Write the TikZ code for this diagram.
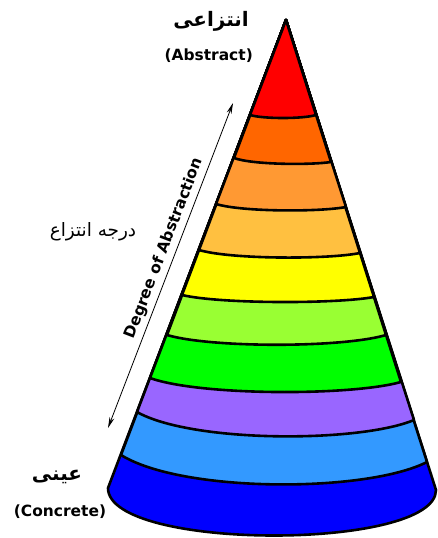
\documentclass[tikz,border=0pt]{standalone}
\usepackage{fontspec}
\setmainfont{DejaVu Sans}
\newfontfamily\arabicfont[Script=Arabic]{DejaVu Sans}
\TeXXeTstate=1
\usetikzlibrary{
  arrows.meta,
  calc
}
\definecolor{conered}{RGB}{255,0,0}
\definecolor{coneorange}{RGB}{255,102,0}
\definecolor{conelightorange}{RGB}{255,153,51}
\definecolor{coneamber}{RGB}{255,192,64}
\definecolor{coneyellow}{RGB}{255,255,0}
\definecolor{conelime}{RGB}{153,255,51}
\definecolor{conegreen}{RGB}{0,255,0}
\definecolor{conepurple}{RGB}{153,102,255}
\definecolor{conesky}{RGB}{51,153,255}
\definecolor{coneblue}{RGB}{0,0,255}
\tikzset{
  coneband/.style={
    draw=black, line width=2.6bp, line join=round
  },
  levelarrow/.style={
    {Stealth[length=11bp,width=5bp]}-{Stealth[length=11bp,width=5bp]},
    draw=black, line width=0.8bp
  },
  enlabel/.style={
    font=\fontsize{15.5}{18}\selectfont\bfseries, inner sep=1bp
  },
  falabel/.style={
    font=\fontsize{20}{24}\selectfont\arabicfont\bfseries, inner sep=1bp
  },
}

\begin{document}
\begin{tikzpicture}[x=1bp, y=-1bp]

  \useasboundingbox[fill=white] (0,0) rectangle (438,538);

  \coordinate (apex) at (286,20);

  %% cone, drawn from the base up
  \filldraw[coneband, fill=coneblue] (apex) -- (108,488)
    .. controls +(0,63) and +(0,61) .. (436,490) -- cycle;
  \filldraw[coneband, fill=conesky] (apex) -- (121,455)
    .. controls +(61,38) and +(-61,31) .. (427,462) -- cycle;
  \filldraw[coneband, fill=conepurple] (apex) -- (137,412)
    .. controls +(55,31) and +(-55,23) .. (414,420) -- cycle;
  \filldraw[coneband, fill=conegreen] (apex) -- (150,378)
    .. controls +(50,18) and +(-50,14) .. (401,382) -- cycle;
  \filldraw[coneband, fill=conelime] (apex) -- (167,335)
    .. controls +(44,13) and +(-44,13) .. (386,335) -- cycle;
  \filldraw[coneband, fill=coneyellow] (apex) -- (182,295)
    .. controls +(38,9) and +(-38,7) .. (374,297) -- cycle;
  \filldraw[coneband, fill=coneamber] (apex) -- (199,250)
    .. controls +(32,9.5) and +(-32,6.5) .. (360,253) -- cycle;
  \filldraw[coneband, fill=conelightorange] (apex) -- (216,204)
    .. controls +(26,8) and +(-26,5) .. (346,207) -- cycle;
  \filldraw[coneband, fill=coneorange] (apex) -- (234,158)
    .. controls +(19,7) and +(-19,3) .. (331,162) -- cycle;
  \filldraw[coneband, fill=conered] (apex) -- (250,115)
    .. controls +(13,4) and +(-13,4) .. (316,115) -- cycle;

  %% labels
  \node[falabel] (abstractfa) at (211,21) {\beginR انتزاعی\endR};
  \node[enlabel, anchor=east] (abstractlbl) at (254,56) {(Abstract)};
  \node[falabel] (concretefa) at (57,477) {\beginR عینی\endR};
  \node[enlabel] (concretelbl) at (60,512) {(Concrete)};
  \node[falabel, font=\fontsize{18.5}{22}\selectfont\arabicfont] (degreefa)
    at (93,232) {\beginR درجه انتزاع\endR};

  %% degree of abstraction
  \coordinate (arrowlow) at (108,428);
  \coordinate (arrowhigh) at (233,103);
  \draw[levelarrow] (arrowlow) -- (arrowhigh)
    node[enlabel, sloped, above=3bp, pos=0.54] (degreelbl) {Degree of Abstraction};

\end{tikzpicture}
\end{document}
